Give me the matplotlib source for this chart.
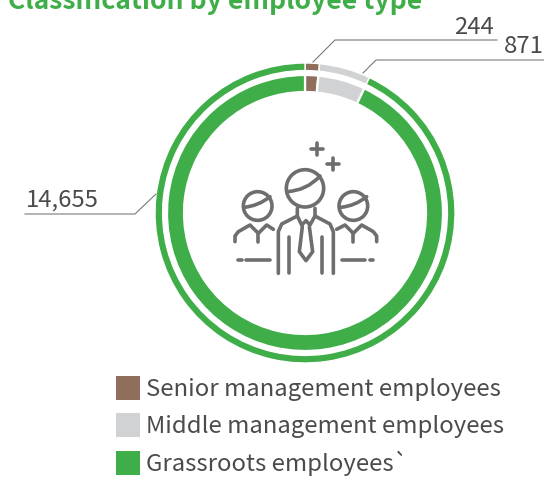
import matplotlib

matplotlib.use("Agg")
import matplotlib.pyplot as plt
from matplotlib.patches import Circle, PathPatch, Rectangle
from matplotlib.path import Path

WIDTH, HEIGHT = 544, 478

categories = ["Senior management employees", "Middle management employees", "Grassroots employees`"]
employees = [244, 871, 14655]
value_labels = ["244", "871", "14,655"]
colors = ["#8f6f5b", "#d1d2d4", "#3fae49"]

TITLE = "Classification by employee type"
TITLE_GREEN = "#3fae49"
TEXT_COLOR = "#4b4b4d"
ICON_COLOR = "#6d6e70"
LEADER_COLOR = "#7a7a7a"

plt.rcParams["font.family"] = ["Noto Sans CJK KR", "DejaVu Sans"]

fig = plt.figure(figsize=(WIDTH / 100, HEIGHT / 100), dpi=100)
ax = fig.add_axes([0, 0, 1, 1])


def flip(py):
    # picture coordinates run downwards, the axes run upwards
    return HEIGHT - py


def zoom_pt(x, y):
    # icon was measured on a 3x crop starting at (220, 130)
    return 220 + x / 3, flip(130 + y / 3)


# Two rings, the outer one thin and the inner one thick
center = (305, flip(213))
ax.pie(employees, colors=colors, startangle=90, counterclock=False, radius=150, center=center,
       wedgeprops={"width": 7.6, "edgecolor": "white", "linewidth": 1.0}, frame=True)
ax.pie(employees, colors=colors, startangle=90, counterclock=False, radius=138, center=center,
       wedgeprops={"width": 17, "edgecolor": "white", "linewidth": 1.6}, frame=True)

ax.set_xlim(0, WIDTH)
ax.set_ylim(0, HEIGHT)
ax.set_aspect("equal")
ax.axis("off")

# Title runs off the top of the picture
ax.text(8, flip(9), TITLE, color=TITLE_GREEN, fontsize=19.1, fontweight="bold", ha="left", va="baseline")

# Leader lines
leaders = [
    [(497, 40), (335, 40), (313, 62)],
    [(544, 60), (376, 60), (363, 73)],
    [(25, 214), (135, 214), (156, 194)],
]
for leader in leaders:
    ax.plot([p[0] for p in leader], [flip(p[1]) for p in leader], color=LEADER_COLOR, lw=0.8)

label_positions = [(454, 34), (504, 53), (26, 207)]
for text, (x, y) in zip(value_labels, label_positions):
    ax.text(x, flip(y), text, color=TEXT_COLOR, fontsize=17.2, ha="left", va="baseline")

# Legend
legend_tops = [376, 413, 451]
for name, color, top in zip(categories, colors, legend_tops):
    ax.add_patch(Rectangle((115.5, flip(top + 24)), 24, 24, facecolor=color, edgecolor="none"))
    ax.text(145.5, flip(top + 20), name, color=TEXT_COLOR, fontsize=17.2, ha="left", va="baseline")

# People icon in the middle
for x, y, r in [(255, 175, 56), (113, 228, 43), (400, 228, 43)]:
    cx, cy = zoom_pt(x, y)
    ax.add_patch(Circle((cx, cy), r / 3, facecolor="none", edgecolor=ICON_COLOR, lw=2.6))

for start, ctrl, end in [
    ((200, 185), (260, 182), (300, 138)),
    ((72, 232), (115, 228), (150, 200)),
    ((362, 232), (405, 228), (440, 200)),
]:
    hair = Path([zoom_pt(*start), zoom_pt(*ctrl), zoom_pt(*end)], [Path.MOVETO, Path.CURVE3, Path.CURVE3])
    ax.add_patch(PathPatch(hair, facecolor="none", edgecolor=ICON_COLOR, lw=2.6, capstyle="round"))

icon_lines = [
    # center person
    [(175, 430), (175, 305), (185, 282), (232, 258), (232, 235)],
    [(340, 430), (340, 305), (330, 282), (285, 258), (285, 235)],
    [(232, 258), (245, 285), (258, 272), (270, 285), (285, 258)],
    [(247, 290), (238, 365), (258, 392), (278, 365), (268, 290)],
    [(208, 322), (208, 430)],
    [(305, 322), (305, 430)],
    # left person
    [(45, 335), (45, 318), (55, 305), (90, 285), (115, 310), (140, 285), (160, 298)],
    [(115, 310), (115, 335)],
    # right person
    [(470, 335), (470, 318), (460, 305), (425, 285), (400, 310), (375, 285), (350, 298)],
    [(400, 310), (400, 335)],
    # floor dashes
    [(55, 390), (65, 390)],
    [(78, 390), (150, 390)],
    [(365, 390), (435, 390)],
    [(450, 390), (458, 390)],
    # plus signs
    [(272, 58), (308, 58)],
    [(290, 40), (290, 76)],
    [(322, 103), (358, 103)],
    [(340, 85), (340, 121)],
]
for line in icon_lines:
    pts = [zoom_pt(*p) for p in line]
    ax.plot([p[0] for p in pts], [p[1] for p in pts], color=ICON_COLOR, lw=2.6,
            solid_capstyle="round", solid_joinstyle="round")

fig.savefig("out.png", dpi=100)
